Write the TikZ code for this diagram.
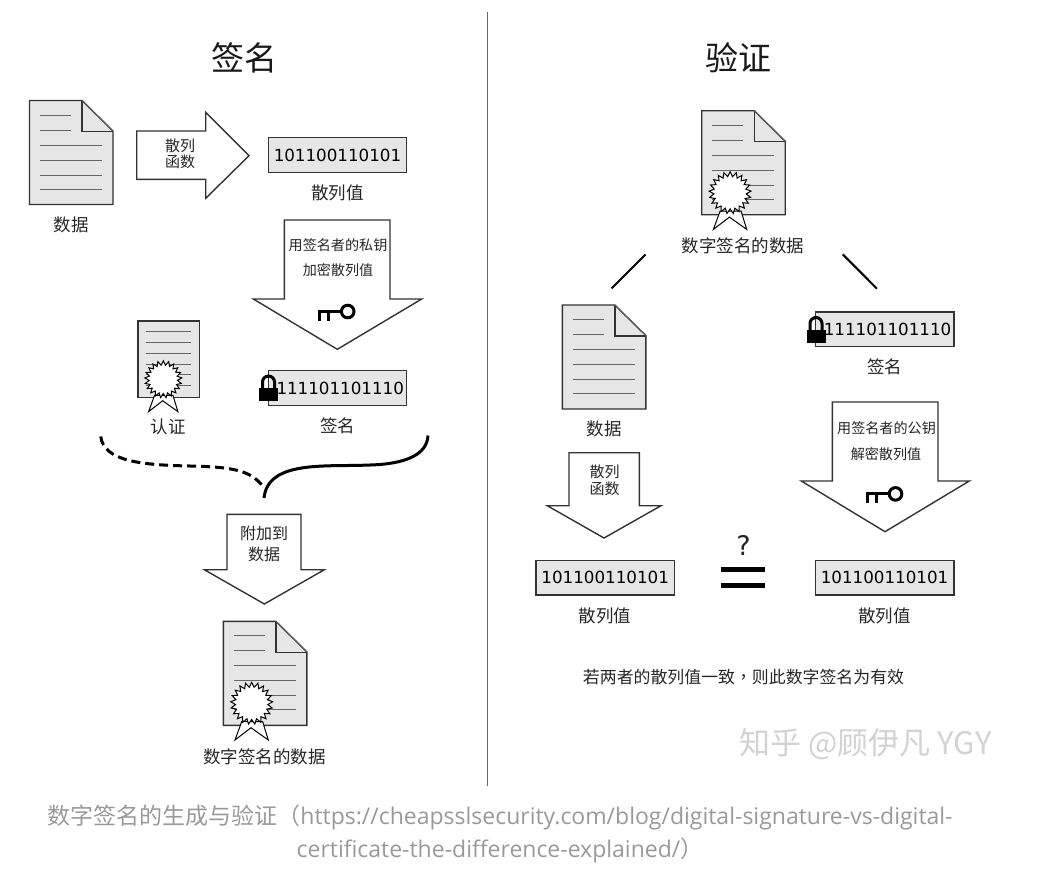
\documentclass[tikz,border=0pt]{standalone}
\usepackage{fontspec}
\setmainfont{DejaVu Sans}
\newfontfamily\cjk{Noto Sans CJK SC}
\newfontfamily\cjktc{Noto Sans CJK TC}
\newfontfamily\capfont{Open Sans}
\usetikzlibrary{shapes.geometric}
\definecolor{pagegray}{HTML}{E6E6E6}
\definecolor{edgegray}{HTML}{333333}
\definecolor{linegray}{HTML}{666666}
\definecolor{capgray}{HTML}{999999}
\definecolor{markgray}{HTML}{D2D2D2}
\tikzset{
  sheet/.style={draw=edgegray, fill=pagegray, line width=1.4pt, line join=miter},
  blockarrow/.style={draw=edgegray, fill=white, line width=1.4pt, line join=miter},
  hashbox/.style={draw=edgegray, fill=pagegray, line width=1.4pt, minimum width=138.5pt, minimum height=34.6pt, font=\fontsize{16.7}{20}\selectfont},
  sealstar/.style={star, star points=21, star point ratio=1.3, draw=black, fill=white, line width=1pt, minimum size=42pt, transform shape},
  lab/.style={font=\cjk\fontsize{17.5}{21}\selectfont, text=black!85},
  smalllab/.style={font=\cjk\fontsize{14.1}{17}\selectfont, text=black!85},
  funclab/.style={font=\cjk\fontsize{15}{18}\selectfont, text=black!85},
  titlelab/.style={font=\cjk\fontsize{33}{40}\selectfont, text=black!90},
  docpage/.pic={
     \draw [sheet] (0,0) -- (52.5,0) -- (83.5,30.5) -- (83.5,104) -- (0,104) -- cycle;
     \draw [edgegray, line width=1.4pt] (52.5,0) -- (52.5,31) -- (83.5,31);
     \draw [linegray, line width=0.7pt] (52.5,0) -- (83.5,30.5);
     \draw [linegray, line width=0.9pt] (10.5,14.5) -- (41.5,14.5);
     \draw [linegray, line width=0.9pt] (10.5,29.5) -- (41.5,29.5);
     \draw [linegray, line width=0.9pt] (10.5,44.5) -- (72.5,44.5);
     \draw [linegray, line width=0.9pt] (10.5,59.5) -- (72.5,59.5);
     \draw [linegray, line width=0.9pt] (10.5,74.5) -- (72.5,74.5);
     \draw [linegray, line width=0.9pt] (10.5,88.5) -- (72.5,88.5);
  },
  certseal/.pic={
     \draw [black, fill=white, line width=1pt] (-10,18.4) -- (-16.7,36.7) -- (-0.7,24.4) -- (16.6,36.7) -- (11,18.4) -- cycle;
     \node [sealstar] (-star) at (0,0) {};
  },
  keyicon/.pic={
     \draw [black, line width=3pt] (0,0.5) circle (6.3);
     \draw [black, line width=3pt] (-6.5,0.5) -- (-29.4,0.5);
     \draw [black, line width=3pt] (-28,0.5) -- (-28,9.7);
     \draw [black, line width=3pt] (-19,0.5) -- (-19,9.7);
  },
  lockicon/.pic={
     \fill [black] (0,13) rectangle (19,26);
     \draw [black, line width=3pt] (3.5,14) -- (3.5,7) arc [start angle=180, end angle=360, radius=6] -- (15.5,14);
  },
}
\begin{document}
\begin{tikzpicture}[x=1pt, y=-1pt]
     \tikzstyle{every node}+=[inner sep=0pt]
     \useasboundingbox (0,0) rectangle (1056,886);
     \coordinate (ruletop) at (487,12);
     \coordinate (rulebot) at (487,786);
     \draw [linegray, line width=1pt] (ruletop) -- (rulebot);
     \node [titlelab] (signtitle) at (244,58) {签名};
     \node [titlelab] (checktitle) at (738,58) {验证};

     \pic at (29.5,100.5) {docpage};
     \node [lab] (datalab) at (71,224.5) {数据};
     \draw [blockarrow] (136.7,131) -- (205.7,131) -- (205.7,112.3) -- (249,155.7) -- (205.7,198.3) -- (205.7,179.3) -- (136.7,179.3) -- cycle;
     \node [funclab] (hashfunc) at (180,156) {\begin{tabular}{@{}c@{}}散列\\[-1.5pt]函数\end{tabular}};
     \node [hashbox] (hashbox) at (337.5,155) {101100110101};
     \node [lab] (hashlab) at (337.5,193) {散列值};
     \draw [blockarrow] (284.3,220) -- (390,220) -- (390,299) -- (421.7,299) -- (337.3,349.3) -- (253.3,299) -- (284.3,299) -- cycle;
     \node [smalllab] (encone) at (338,245.5) {用签名者的私钥};
     \node [smalllab] (enctwo) at (338,270) {加密散列值};
     \pic at (347.7,311) {keyicon};

     \draw [sheet] (138,321) rectangle (199.3,397.3);
     \draw [linegray, line width=0.9pt] (145.7,331.7) -- (191.3,331.7);
     \draw [linegray, line width=0.9pt] (145.7,342.3) -- (191.3,342.3);
     \draw [linegray, line width=0.9pt] (145.7,353.3) -- (191.3,353.3);
     \draw [linegray, line width=0.9pt] (145.7,364.3) -- (191.3,364.3);
     \draw [linegray, line width=0.9pt] (145.7,374.7) -- (191.3,374.7);
     \draw [linegray, line width=0.9pt] (145.7,385) -- (191.3,385);
     \pic (certsmall) [scale=0.88] at (163.3,379.3) {certseal};
     \node [lab] (certlab) at (168,427) {认证};
     \node [hashbox] (signbox) at (337.5,388) {\hspace*{5.5pt}111101101110};
     \pic at (259,375) {lockicon};
     \node [lab] (signlab) at (337.5,425.5) {签名};

     \coordinate (certend) at (100.7,436.5);
     \coordinate (dashjoin) at (262.7,486);
     \coordinate (signend) at (428,435.5);
     \coordinate (joinend) at (264,498);
     \draw [black, line width=3pt, dash pattern=on 9pt off 5pt] (certend) .. controls (104,461) and (140,465) .. (190,466) .. controls (232,467) and (250,470) .. (dashjoin);
     \draw [black, line width=3pt] (signend) .. controls (427,455) and (405,464) .. (370,465) .. controls (325,467) and (268,460) .. (joinend);

     \draw [blockarrow] (227,514.3) -- (301,514.3) -- (301,569.7) -- (324.3,569.7) -- (264.3,604) -- (204.3,569.7) -- (227,569.7) -- cycle;
     \node [lab, font=\cjk\fontsize{16}{19}\selectfont] (attachone) at (264,533) {附加到};
     \node [lab, font=\cjk\fontsize{16}{19}\selectfont] (attachtwo) at (264,554.5) {数据};
     \pic at (223.3,621.3) {docpage};
     \pic (signedseal) at (251.7,703.3) {certseal};
     \node [lab] (signedlab) at (264.5,757) {数字签名的数据};

     \pic at (701.7,110.7) {docpage};
     \pic (topseal) at (730.1,192.7) {certseal};
     \node [lab] (toplab) at (743,246) {数字签名的数据};
     \coordinate (leftstart) at (645.5,254.5);
     \coordinate (leftend) at (611.5,288.5);
     \coordinate (rightstart) at (842.7,254.3);
     \coordinate (rightend) at (877,288.7);
     \draw [black, line width=2pt] (leftstart) -- (leftend);
     \draw [black, line width=2pt] (rightstart) -- (rightend);

     \pic at (562.3,305) {docpage};
     \node [lab] (midlab) at (604,429) {数据};
     \node [hashbox] (checkbox) at (884.8,329.3) {\hspace*{5.5pt}111101101110};
     \pic at (806.5,316.5) {lockicon};
     \node [lab] (checklab) at (884.5,367) {签名};

     \draw [blockarrow] (569,452.7) -- (639.3,452.7) -- (639.3,505.7) -- (661,505.7) -- (604,538) -- (547.3,505.7) -- (569,505.7) -- cycle;
     \node [funclab] (midfunc) at (604.5,482.5) {\begin{tabular}{@{}c@{}}散列\\[-1.5pt]函数\end{tabular}};
     \draw [blockarrow] (832.3,402) -- (938,402) -- (938,481) -- (969.3,481) -- (885,531.7) -- (801.3,481) -- (832.3,481) -- cycle;
     \node [smalllab] (decone) at (886.5,428) {用签名者的公钥};
     \node [smalllab] (dectwo) at (886,454) {解密散列值};
     \pic at (895.5,493.4) {keyicon};

     \node [hashbox] (lefthash) at (605.2,577.8) {101100110101};
     \node [lab] (lefthashlab) at (605,615.5) {散列值};
     \node [hashbox] (righthash) at (884.6,577.8) {101100110101};
     \node [lab] (righthashlab) at (884.5,615.5) {散列值};
     \node [font=\fontsize{27}{32}\selectfont, text=black!85] (query) at (743.5,545) {?};
     \fill [black] (721.3,567) rectangle (765.3,571.7);
     \fill [black] (721.3,583.3) rectangle (765.3,588);
     \node [font=\cjk\fontsize{16.9}{20}\selectfont, text=black!85] (verdict) at (743.5,677) {若两者的散列值一致{\cjktc ，}则此数字签名为有效};

     \node [font=\cjk\fontsize{31}{37}\selectfont, text=markgray] (zhimark) at (865.5,744) {知乎 @顾伊凡 YGY};
     \node [font=\capfont\fontsize{23}{33}\selectfont, text=capgray, align=center] (caption) at (500,833.5) {{\cjk 数字签名的生成与验证（}https://cheapsslsecurity.com/blog/digital-signature-vs-digital-\\certificate-the-difference-explained/{\cjk ）}};
\end{tikzpicture}
\end{document}
